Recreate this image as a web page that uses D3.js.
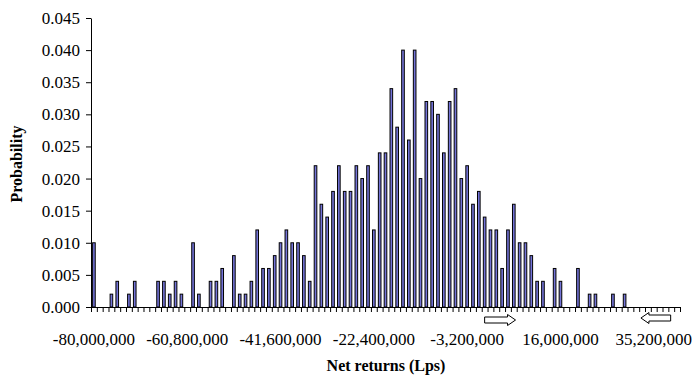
<!DOCTYPE html>
<html>
<head>
<meta charset="utf-8">
<script src="https://cdn.jsdelivr.net/npm/d3@7"></script>
<style>
  html, body { margin: 0; padding: 0; background: #fff; }
  svg { display: block; }
  text { font-family: "Liberation Serif", "Times New Roman", serif; fill: #000; }
</style>
</head>
<body>
<svg id="chart" width="695" height="377"></svg>
<script>
// Histogram bins: lower bound of each net-returns class (Lps), 1,200,000 wide
const binStart = -80000000;
const binWidth = 1200000;
const binCount = 101;

// Probability of each class (sample of 500 simulated outcomes)
const probability = [
  0.010, 0.000, 0.000, 0.002, 0.004, 0.000, 0.002, 0.004, 0.000, 0.000,
  0.000, 0.004, 0.004, 0.002, 0.004, 0.002, 0.000, 0.010, 0.002, 0.000,
  0.004, 0.004, 0.006, 0.000, 0.008, 0.002, 0.002, 0.004, 0.012, 0.006,
  0.006, 0.008, 0.010, 0.012, 0.010, 0.010, 0.008, 0.004, 0.022, 0.016,
  0.014, 0.018, 0.022, 0.018, 0.018, 0.022, 0.020, 0.022, 0.012, 0.024,
  0.024, 0.034, 0.028, 0.040, 0.026, 0.040, 0.020, 0.032, 0.032, 0.030,
  0.024, 0.032, 0.034, 0.020, 0.022, 0.016, 0.018, 0.014, 0.012, 0.012,
  0.006, 0.012, 0.016, 0.010, 0.010, 0.008, 0.004, 0.004, 0.000, 0.006,
  0.004, 0.000, 0.000, 0.006, 0.000, 0.002, 0.002, 0.000, 0.000, 0.002,
  0.000, 0.002, 0.000, 0.000, 0.000, 0.000, 0.000, 0.000, 0.000, 0.000,
  0.000
];

// Category labels shown on the x axis (every 16th class)
const xTickLabels = [-80000000, -60800000, -41600000, -22400000, -3200000, 16000000, 35200000];
// Y axis tick values
const yTicks = [0, 0.005, 0.010, 0.015, 0.020, 0.025, 0.030, 0.035, 0.040, 0.045];

const categories = d3.range(binCount).map(i => binStart + i * binWidth);
const data = categories.map((c, i) => ({ c, p: probability[i] }));

const svg = d3.select("#chart");
const plot = { left: 91, right: 680, top: 18, bottom: 307 };

const x = d3.scaleBand()
  .domain(categories)
  .range([plot.left, plot.right])
  .paddingInner(0.55)
  .paddingOuter(0.275);

// class boundaries, used for the tick marks between bars
const edge = d3.scaleLinear().domain([0, binCount]).range([plot.left, plot.right]);

const y = d3.scaleLinear().domain([0, 0.045]).range([plot.bottom, plot.top]);

// Bars
svg.append("g")
  .selectAll("rect")
  .data(data.filter(d => d.p > 0))
  .join("rect")
  .attr("x", d => x(d.c))
  .attr("y", d => y(d.p))
  .attr("width", x.bandwidth())
  .attr("height", d => y(0) - y(d.p))
  .attr("fill", "#7474d8")
  .attr("stroke", "#000")
  .attr("stroke-width", 1);

// X axis: boundary ticks
svg.append("g")
  .attr("transform", `translate(0,${plot.bottom})`)
  .call(d3.axisBottom(edge).tickValues(d3.range(binCount + 1)).tickFormat("").tickSize(5).tickSizeOuter(0))
  .call(g => g.selectAll("line,path").attr("stroke", "#000").attr("stroke-width", 1));

// X axis: category labels
svg.append("g")
  .attr("transform", `translate(0,${plot.bottom})`)
  .call(d3.axisBottom(x).tickValues(xTickLabels).tickSize(0).tickPadding(26)
    .tickFormat(d => d3.format(",")(d).replace("−", "-")))
  .call(g => g.select(".domain").remove())
  .call(g => g.selectAll("text").attr("font-size", 17).attr("font-family", "Liberation Serif"));

// Y axis
svg.append("g")
  .attr("transform", `translate(${plot.left},0)`)
  .call(d3.axisLeft(y).tickValues(yTicks).tickFormat(d3.format(".3f")).tickSize(5).tickSizeOuter(0).tickPadding(6))
  .call(g => g.selectAll("line,path").attr("stroke", "#000").attr("stroke-width", 1))
  .call(g => g.selectAll("text").attr("font-size", 17).attr("font-family", "Liberation Serif"));

// Axis titles
svg.append("text")
  .attr("x", 386).attr("y", 371)
  .attr("text-anchor", "middle")
  .attr("font-size", 16).attr("font-weight", "bold")
  .text("Net returns (Lps)");

svg.append("text")
  .attr("transform", "translate(22,164) rotate(-90)")
  .attr("text-anchor", "middle")
  .attr("font-size", 16).attr("font-weight", "bold")
  .text("Probability");

// Block arrows marking the two ends of the range of interest
function blockArrow(x0, x1, cy, dir) {
  const head = 8, shaft = 3, wing = 5.5;
  let pts;
  if (dir > 0) {
    const hb = x1 - head;
    pts = [[x0, cy - shaft], [hb, cy - shaft], [hb, cy - wing], [x1, cy], [hb, cy + wing], [hb, cy + shaft], [x0, cy + shaft]];
  } else {
    const hb = x0 + head;
    pts = [[x1, cy - shaft], [hb, cy - shaft], [hb, cy - wing], [x0, cy], [hb, cy + wing], [hb, cy + shaft], [x1, cy + shaft]];
  }
  svg.append("path")
    .attr("d", d3.line()(pts) + "Z")
    .attr("fill", "#fff")
    .attr("stroke", "#000")
    .attr("stroke-width", 1);
}
blockArrow(edge(67.5), edge(72.8), 320, 1);
blockArrow(edge(94.3), edge(99.4), 318, -1);
</script>
</body>
</html>
